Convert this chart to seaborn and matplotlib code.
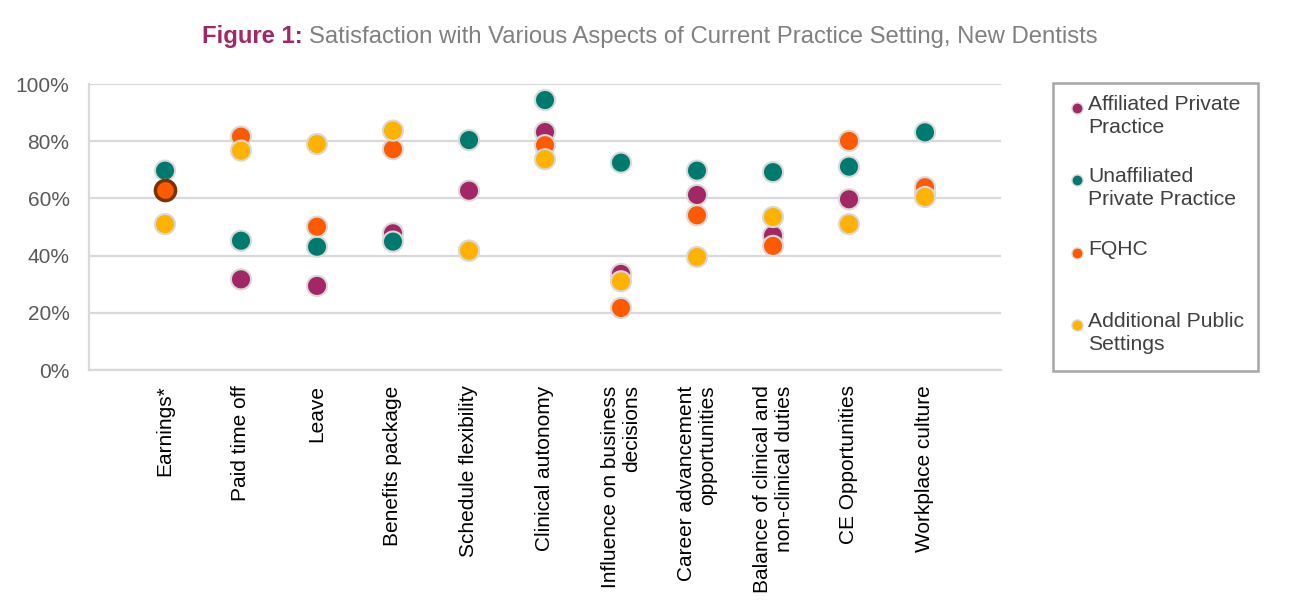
import matplotlib
matplotlib.use("Agg")
import matplotlib.pyplot as plt
import seaborn as sns
import pandas as pd
from matplotlib.lines import Line2D
from matplotlib.patches import Rectangle

categories = ["Earnings*", "Paid time off", "Leave", "Benefits package",
              "Schedule flexibility", "Clinical autonomy",
              "Influence on business\ndecisions", "Career advancement\nopportunities",
              "Balance of clinical and\nnon-clinical duties", "CE Opportunities",
              "Workplace culture"]
affiliated = [63, 31.7, 29.4, 47.8, 62.7, 83.2, 33.6, 61.2, 47.0, 59.7, 61.5]
unaffiliated = [69.7, 45.2, 43.1, 44.9, 80.4, 94.4, 72.5, 69.7, 69.2, 71.1, 83.1]
fqhc = [63, 81.6, 50.1, 77.2, 41.7, 78.6, 21.7, 54.1, 43.4, 80.1, 63.9]
additional = [51.0, 76.7, 79.0, 83.7, 41.7, 73.7, 31.0, 39.5, 53.5, 51.0, 60.5]
series_names = ["Affiliated Private Practice", "Unaffiliated Private Practice",
                "FQHC", "Additional Public Settings"]
legend_labels = ["Affiliated Private\nPractice", "Unaffiliated\nPrivate Practice",
                 "FQHC", "Additional Public\nSettings"]
colors = ["#A32666", "#00796F", "#FF5A00", "#FFB200"]
yticks = [0, 20, 40, 60, 80, 100]
ytick_labels = ["0%", "20%", "40%", "60%", "80%", "100%"]

rows = []
for name, vals in zip(series_names, [affiliated, unaffiliated, fqhc, additional]):
    for c, v in zip(categories, vals):
        rows.append({"aspect": c, "value": v, "setting": name})
df = pd.DataFrame(rows)

sns.set_theme(style="white")
plt.rcParams["font.family"] = ["Liberation Sans", "DejaVu Sans"]

fig = plt.figure(figsize=(12.92, 6.08), dpi=100)
ax = fig.add_axes([89/1292, 1-370/608, (1001-89)/1292, (370-84)/608])

sns.stripplot(data=df, x="aspect", y="value", hue="setting", order=categories,
              hue_order=series_names, palette=colors, jitter=False, dodge=False,
              size=14.5, linewidth=1.5, edgecolor="#d9d9d9", ax=ax, legend=False,
              zorder=3)

# highlighted Earnings FQHC point
ax.scatter([categories.index("Earnings*")], [fqhc[0]], s=14.5**2, color=colors[2],
           edgecolor="#7A3300", linewidth=2.5, zorder=5)

ax.set_ylim(0, 100)
ax.set_xlim(-1, len(categories))
ax.set_yticks(yticks)
ax.set_yticklabels(ytick_labels, color="#595959", fontsize=15)
ax.yaxis.grid(True, color="#d9d9d9", linewidth=1.6)
ax.set_axisbelow(True)
ax.tick_params(axis="y", length=0, pad=14)
ax.tick_params(axis="x", length=0, pad=11)
ax.set_xticks(range(len(categories)))
ax.set_xticklabels(categories, rotation=90, ha="center", va="top",
                   multialignment="right", fontsize=15, color="black")
ax.set_xlabel("")
ax.set_ylabel("")
for s in ["top", "right"]:
    ax.spines[s].set_visible(False)
ax.spines["bottom"].set_color("#d9d9d9")
ax.spines["bottom"].set_linewidth(1.6)
ax.spines["left"].set_color("#d9d9d9")
ax.spines["left"].set_linewidth(1.6)

# Title
ty = 1 - 37/608
t1 = fig.text(0.5, ty, "Figure 1: ", ha="left", va="center", fontsize=17.2,
              fontweight="bold", color="#A32666")
title_rest = "Satisfaction with Various Aspects of Current Practice Setting, New Dentists"
t2 = fig.text(0.5, ty, title_rest, ha="left", va="center", fontsize=17.2,
              color="#808080")
fig.canvas.draw()
r = fig.canvas.get_renderer()
w1 = t1.get_window_extent(r).width
w2 = t2.get_window_extent(r).width
start = 650 - (w1 + w2) / 2
t1.set_x(start / 1292)
t2.set_x((start + w1) / 1292)

# Legend box
fig.patches.append(Rectangle((1053/1292, 1-371/608), (1258-1053)/1292, (371-83)/608,
                             transform=fig.transFigure, fill=False,
                             edgecolor="#a6a6a6", linewidth=1.8))
marker_ys = [108, 180, 253, 325]
for lab, col, my in zip(legend_labels, colors, marker_ys):
    fig.add_artist(Line2D([1077/1292], [1-my/608], transform=fig.transFigure,
                          marker="o", markersize=8, color=col,
                          markeredgecolor="#d9d9d9", markeredgewidth=1, linestyle=""))
    fig.text(1088/1292, 1-(my-13)/608, lab, ha="left", va="top", fontsize=15.2,
             color="#404040", linespacing=1.28)

fig.savefig("out.png", dpi=100)
